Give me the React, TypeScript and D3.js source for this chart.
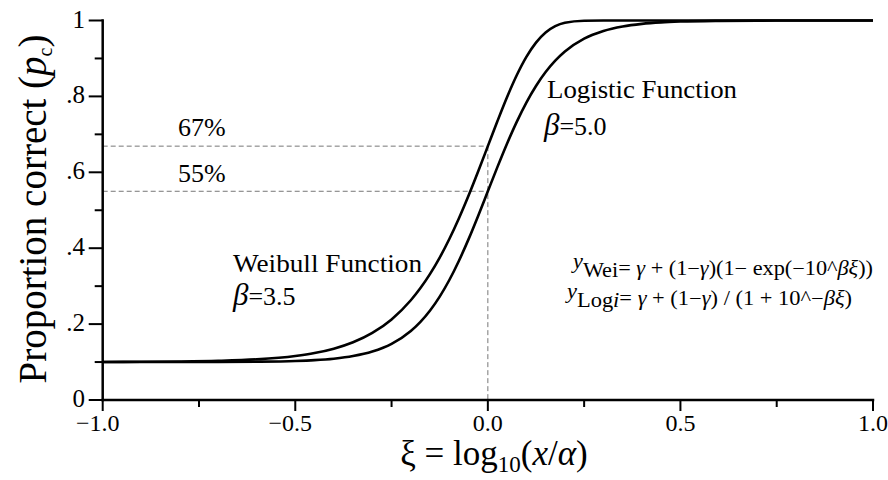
import React from "react";
import * as d3 from "d3";

// ξ sample positions and the two psychometric curves
const xi = [-1, -0.9, -0.8, -0.7, -0.6, -0.5, -0.45, -0.4, -0.35, -0.3, -0.25, -0.2, -0.175, -0.15, -0.125, -0.1, -0.075, -0.05, -0.025, 0, 0.025, 0.05, 0.075, 0.1, 0.125, 0.15, 0.175, 0.2, 0.25, 0.3, 0.35, 0.4, 0.45, 0.5, 0.6, 0.7, 0.8, 0.9, 1.0];
const weibull = [0.1003, 0.1006, 0.1014, 0.1032, 0.1071, 0.1159, 0.1236, 0.1351, 0.152, 0.1767, 0.2124, 0.2628, 0.2949, 0.3323, 0.3753, 0.4242, 0.4789, 0.5387, 0.6026, 0.6689, 0.7351, 0.7984, 0.8556, 0.9041, 0.9418, 0.9684, 0.985, 0.994, 0.9995, 1, 1, 1, 1, 1, 1, 1, 1, 1, 1];
const logistic = [0.1, 0.1, 0.1001, 0.1003, 0.1009, 0.1028, 0.105, 0.1089, 0.1157, 0.1276, 0.1479, 0.1818, 0.2059, 0.2359, 0.2725, 0.3162, 0.367, 0.4239, 0.4857, 0.55, 0.6143, 0.6761, 0.733, 0.7838, 0.8275, 0.8641, 0.8941, 0.9182, 0.9521, 0.9724, 0.9843, 0.9911, 0.995, 0.9972, 0.9991, 0.9997, 0.9999, 1, 1];

const xMajorTicks = [-1, -0.5, 0, 0.5, 1];
const xMinorTicks = [-0.75, -0.25, 0.25, 0.75];
const xTickLabels = ["\u22121.0", "\u22120.5", "0.0", "0.5", "1.0"];
const yMajorTicks = [0, 0.2, 0.4, 0.6, 0.8, 1];
const yMinorTicks = [0.1, 0.3, 0.5, 0.7, 0.9];
const yTickLabels = ["0", ".2", ".4", ".6", ".8", "1"];

const weibullAtZero = 0.6689;
const logisticAtZero = 0.55;

const FONT = "'Liberation Serif', 'Times New Roman', serif";

export default function App() {
  const W = 888, H = 480;
  const x = d3.scaleLinear().domain([-1, 1]).range([102.7, 873]);
  const y = d3.scaleLinear().domain([0, 1]).range([400, 20.5]);

  const line = d3
    .line<number>()
    .x((_, i) => x(xi[i]))
    .y((d) => y(d))
    .curve(d3.curveMonotoneX);

  const x0 = x(-1), x1 = x(1), y0 = y(0), y1 = y(1);

  return (
    <svg width={W} height={H} style={{ position: "absolute", left: 0, top: 0, background: "#fff" }} fontFamily={FONT}>
      <rect x={0} y={0} width={W} height={H} fill="#fff" />
      {/* dashed guide lines */}
      <g stroke="#777" strokeWidth={1} strokeDasharray="5,3" fill="none">
        <line x1={x0} x2={x(0)} y1={y(weibullAtZero)} y2={y(weibullAtZero)} />
        <line x1={x0} x2={x(0)} y1={y(logisticAtZero)} y2={y(logisticAtZero)} />
        <line x1={x(0)} x2={x(0)} y1={y(weibullAtZero)} y2={y0} />
      </g>

      {/* curves */}
      <path d={line(weibull) || ""} fill="none" stroke="#000" strokeWidth={2.6} />
      <path d={line(logistic) || ""} fill="none" stroke="#000" strokeWidth={2.6} />

      {/* axes */}
      <g stroke="#000" strokeWidth={2.5} strokeLinecap="square">
        <line x1={x0} x2={x1} y1={y0} y2={y0} />
        <line x1={x0} x2={x0} y1={y0} y2={y1} />
      </g>
      <g stroke="#000" strokeWidth={2}>
        {xMajorTicks.map((t) => (
          <line key={"xM" + t} x1={x(t)} x2={x(t)} y1={y0} y2={y0 + 11} />
        ))}
        {xMinorTicks.map((t) => (
          <line key={"xm" + t} x1={x(t)} x2={x(t)} y1={y0} y2={y0 + 7} />
        ))}
        {yMajorTicks.map((t) => (
          <line key={"yM" + t} x1={x0 - 14} x2={x0} y1={y(t)} y2={y(t)} />
        ))}
        {yMinorTicks.map((t) => (
          <line key={"ym" + t} x1={x0 - 8} x2={x0} y1={y(t)} y2={y(t)} />
        ))}
      </g>
      <g fontSize={24} fill="#000">
        {xMajorTicks.map((t, i) => (
          <text key={"xl" + t} x={x(t) - (t < 0 ? 5 : 0)} y={431} textAnchor="middle">
            {xTickLabels[i]}
          </text>
        ))}
      </g>
      <g fontSize={25} fill="#000">
        {yMajorTicks.map((t, i) => (
          <text key={"yl" + t} x={85} y={y(t) + 7} textAnchor="end">
            {yTickLabels[i]}
          </text>
        ))}
      </g>

      {/* axis titles */}
      <text x={494} y={465} fontSize={35} textAnchor="middle">
        <tspan>ξ = log</tspan>
        <tspan fontSize={23} dy={7}>10</tspan>
        <tspan dy={-7}>(</tspan>
        <tspan fontStyle="italic">x</tspan>
        <tspan>/</tspan>
        <tspan fontStyle="italic">α</tspan>
        <tspan>)</tspan>
      </text>
      <text transform="translate(46,209) rotate(-90)" fontSize={39} textAnchor="middle">
        <tspan>Proportion correct (</tspan>
        <tspan fontStyle="italic">p</tspan>
        <tspan fontSize={20} dy={6}>c</tspan>
        <tspan dy={-6}>)</tspan>
      </text>

      {/* annotations */}
      <g fontSize={26} fill="#000">
        <text x={178} y={136}>67%</text>
        <text x={178} y={182}>55%</text>
        <text x={547} y={98} textLength={190} lengthAdjust="spacingAndGlyphs">Logistic Function</text>
        <text x={544} y={135}>
          <tspan fontStyle="italic" fontSize={31}>β</tspan>
          <tspan>=5.0</tspan>
        </text>
        <text x={233} y={272} textLength={189} lengthAdjust="spacingAndGlyphs">Weibull Function</text>
        <text x={233} y={305}>
          <tspan fontStyle="italic" fontSize={31}>β</tspan>
          <tspan>=3.5</tspan>
        </text>
      </g>

      {/* formulas */}
      <g fontSize={20} fill="#000">
        <text x={573} y={275} textLength={300} lengthAdjust="spacingAndGlyphs">
          <tspan fontStyle="italic" dy={-7}>y</tspan>
          <tspan dy={9}>Wei</tspan>
          <tspan dy={-2}>= </tspan>
          <tspan fontStyle="italic">γ</tspan>
          <tspan> + (1−</tspan>
          <tspan fontStyle="italic">γ</tspan>
          <tspan>)(1− exp(−10^</tspan>
          <tspan fontStyle="italic">βξ</tspan>
          <tspan>))</tspan>
        </text>
        <text x={567} y={305} textLength={285} lengthAdjust="spacingAndGlyphs">
          <tspan fontStyle="italic" dy={-7}>y</tspan>
          <tspan dy={9}>Log</tspan>
          <tspan fontStyle="italic">i</tspan>
          <tspan dy={-2}>= </tspan>
          <tspan fontStyle="italic">γ</tspan>
          <tspan> + (1−</tspan>
          <tspan fontStyle="italic">γ</tspan>
          <tspan>) / (1 + 10^−</tspan>
          <tspan fontStyle="italic">βξ</tspan>
          <tspan>)</tspan>
        </text>
      </g>
    </svg>
  );
}
